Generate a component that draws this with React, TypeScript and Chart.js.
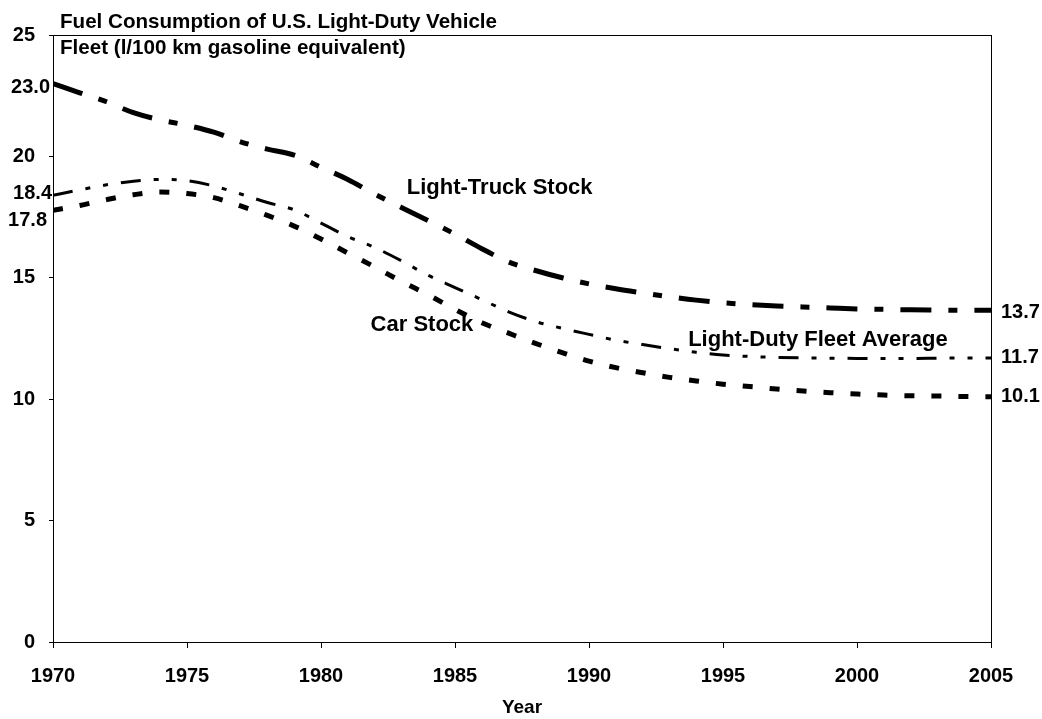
import React, { useEffect, useRef } from "react";
import { Chart, registerables } from "chart.js";

Chart.register(...registerables);

const years = [
  1970, 1971, 1972, 1973, 1974, 1975, 1976, 1977, 1978, 1979,
  1980, 1981, 1982, 1983, 1984, 1985, 1986, 1987, 1988, 1989,
  1990, 1991, 1992, 1993, 1994, 1995, 1996, 1997, 1998, 1999,
  2000, 2001, 2002, 2003, 2004, 2005,
];

const lightTruckStock = [
  23.0, 22.62, 22.25, 21.8, 21.5, 21.28, 21.0, 20.6, 20.3, 20.05,
  19.55, 19.05, 18.45, 17.9, 17.35, 16.8, 16.2, 15.65, 15.3, 15.0,
  14.75, 14.55, 14.38, 14.22, 14.08, 13.97, 13.9, 13.84, 13.8, 13.76,
  13.72, 13.7, 13.68, 13.67, 13.66, 13.66,
];

const fleetAverage = [
  18.4, 18.62, 18.83, 18.98, 19.05, 19.0, 18.78, 18.45, 18.1, 17.8,
  17.25, 16.7, 16.25, 15.7, 15.1, 14.6, 14.1, 13.6, 13.2, 12.92,
  12.67, 12.43, 12.25, 12.08, 11.93, 11.82, 11.76, 11.72, 11.7, 11.69,
  11.68, 11.68, 11.68, 11.69, 11.7, 11.7,
];

const carStock = [
  17.78, 17.98, 18.22, 18.42, 18.53, 18.47, 18.3, 17.96, 17.57, 17.13,
  16.6, 16.02, 15.45, 14.85, 14.3, 13.7, 13.15, 12.72, 12.3, 11.92,
  11.57, 11.3, 11.09, 10.9, 10.75, 10.62, 10.52, 10.42, 10.34, 10.27,
  10.21, 10.17, 10.14, 10.13, 10.11, 10.1,
];

const seriesNames = ["Light-Truck Stock", "Light-Duty Fleet Average", "Car Stock"];
// where each series name label sits (year, value at its left edge / vertical middle)
const labelYears = [1983.2, 1993.7, 1981.85];
const labelValues = [18.7, 12.44, 13.06];

const xTicks = [1970, 1975, 1980, 1985, 1990, 1995, 2000, 2005];
const yTicks = [0, 5, 10, 15, 20, 25];

const titleLines = [
  "Fuel Consumption of U.S. Light-Duty Vehicle",
  "Fleet (l/100 km gasoline equivalent)",
];
const xTitle = "Year";

const FONT = "'Liberation Sans', Arial, Helvetica, sans-serif";

export default function App() {
  const canvasRef = useRef<HTMLCanvasElement | null>(null);

  useEffect(() => {
    const canvas = canvasRef.current;
    if (!canvas) return;

    const series = [lightTruckStock, fleetAverage, carStock];
    const styles = [
      { width: 5, dash: [31, 17, 9, 17] },
      { width: 3, dash: [20, 13, 5, 13, 5, 13] },
      { width: 5, dash: [10, 17] },
    ];
    // pixel nudges for the start-value labels so they do not collide
    const startNudge = [
      { dx: -3, dy: 4 },
      { dx: -1, dy: -2 },
      { dx: -6, dy: 10 },
    ];
    const endNudge = [2, 0, 0];

    const textPlugin = {
      id: "textPlugin",
      afterDraw(chart: any) {
        const { ctx, chartArea } = chart;
        const xs = chart.scales.x;
        const ys = chart.scales.y;
        ctx.save();
        // frame
        ctx.strokeStyle = "#000";
        ctx.lineWidth = 1;
        ctx.strokeRect(
          Math.round(chartArea.left) + 0.5,
          Math.round(chartArea.top) + 0.5,
          Math.round(chartArea.right - chartArea.left),
          Math.round(chartArea.bottom - chartArea.top)
        );
        ctx.fillStyle = "#000";
        // title
        ctx.font = `bold 20.6px ${FONT}`;
        ctx.textAlign = "left";
        ctx.textBaseline = "middle";
        ctx.fillText(titleLines[0], chartArea.left + 7, chartArea.top - 13);
        ctx.fillText(titleLines[1], chartArea.left + 7, chartArea.top + 13);
        // series labels
        ctx.font = `bold 22px ${FONT}`;
        seriesNames.forEach((name, i) => {
          ctx.fillText(
            name,
            xs.getPixelForValue(labelYears[i]),
            ys.getPixelForValue(labelValues[i])
          );
        });
        // start / end value labels
        ctx.font = `bold 20px ${FONT}`;
        series.forEach((arr, i) => {
          const first = arr[0];
          const last = arr[arr.length - 1];
          ctx.textAlign = "right";
          ctx.fillText(
            first.toFixed(1),
            chartArea.left + startNudge[i].dx,
            ys.getPixelForValue(first) + startNudge[i].dy
          );
          ctx.textAlign = "left";
          ctx.fillText(
            last.toFixed(1),
            chartArea.right + 10,
            ys.getPixelForValue(last) + endNudge[i]
          );
        });
        ctx.restore();
      },
    };

    const chart = new Chart(canvas, {
      type: "line",
      data: {
        datasets: series.map((arr, i) => ({
          label: seriesNames[i],
          data: arr.map((v, j) => ({ x: years[j], y: v })),
          borderColor: "#000",
          backgroundColor: "#000",
          borderWidth: styles[i].width,
          borderDash: styles[i].dash,
          borderCapStyle: "butt" as const,
          pointRadius: 0,
          cubicInterpolationMode: "monotone" as const,
          fill: false,
        })),
      },
      options: {
        animation: false,
        responsive: false,
        devicePixelRatio: 1,
        layout: { padding: { top: 35, right: 51, left: 0, bottom: 0 } },
        plugins: {
          legend: { display: false },
          tooltip: { enabled: false },
          title: { display: false },
        },
        scales: {
          x: {
            type: "linear",
            min: 1970,
            max: 2005,
            afterBuildTicks: (scale: any) => {
              scale.ticks = xTicks.map((v) => ({ value: v }));
            },
            afterFit: (scale: any) => {
              scale.height = 77;
            },
            ticks: {
              autoSkip: false,
              maxRotation: 0,
              color: "#000",
              padding: 16,
              font: { family: FONT, size: 20, weight: "bold" },
              callback: (v: any) => String(v),
            },
            grid: {
              drawOnChartArea: false,
              drawTicks: true,
              tickLength: 6,
              color: "#000",
            },
            border: { color: "#000", width: 1 },
            title: {
              display: true,
              text: xTitle,
              color: "#000",
              font: { family: FONT, size: 19, weight: "bold" },
              padding: { top: 0, bottom: 0 },
            },
          },
          y: {
            type: "linear",
            min: 0,
            max: 25,
            afterBuildTicks: (scale: any) => {
              scale.ticks = yTicks.map((v) => ({ value: v }));
            },
            afterFit: (scale: any) => {
              scale.width = 53;
            },
            ticks: {
              autoSkip: false,
              color: "#000",
              padding: 14,
              font: { family: FONT, size: 20, weight: "bold" },
              callback: (v: any) => String(v),
            },
            grid: {
              drawOnChartArea: false,
              drawTicks: true,
              tickLength: 4,
              color: "#000",
            },
            border: { color: "#000", width: 1 },
          },
        },
      },
      plugins: [textPlugin],
    } as any);

    return () => chart.destroy();
  }, []);

  return (
    <div style={{ position: "fixed", left: 0, top: 0, width: 1042, height: 719, background: "#fff" }}>
      <canvas ref={canvasRef} width={1042} height={719} style={{ display: "block" }} />
    </div>
  );
}
